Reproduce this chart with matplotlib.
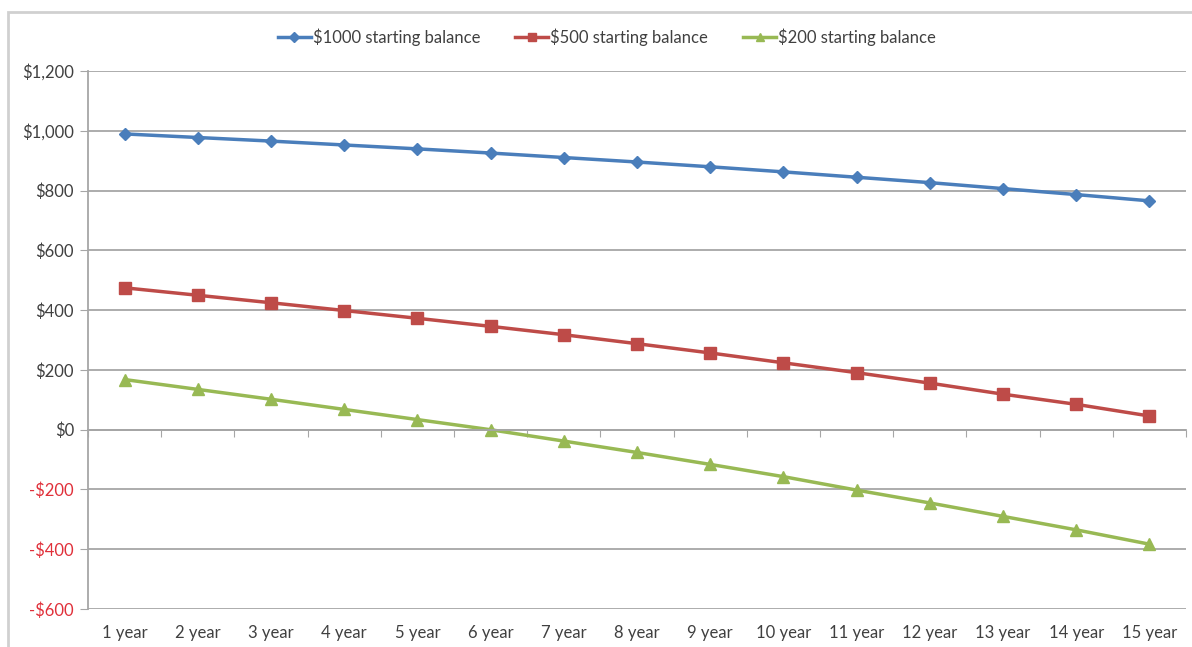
import numpy as np
import matplotlib.pyplot as plt
from matplotlib.patches import Rectangle
import matplotlib.transforms as mtransforms

plt.rcParams['font.family'] = ['Lato', 'DejaVu Sans']

years = [f"{i} year" for i in range(1, 16)]
bal_1000 = [990, 978, 966, 953, 940, 926, 911, 896, 880, 863, 845, 827, 807, 787, 766]
bal_500 = [475, 450, 425, 399, 373, 346, 318, 288, 257, 224, 191, 156, 119, 85, 46]
bal_200 = [168, 135, 102, 68, 34, 0, -38, -76, -116, -157, -202, -245, -290, -335, -383]
yticks = [1200, 1000, 800, 600, 400, 200, 0, -200, -400, -600]

blue = "#4A7EBB"
red = "#BE4B48"
green = "#98B954"

fig = plt.figure(figsize=(11.92, 6.47), dpi=100)
ax = fig.add_axes([0.0738, 0.0587, 0.9212, 0.8313])

x = np.arange(1, len(years) + 1)
ax.plot(x, bal_1000, color=blue, lw=2.5, marker="D", ms=6, label="$1000 starting balance")
ax.plot(x, bal_500, color=red, lw=2.5, marker="s", ms=8, label="$500 starting balance")
ax.plot(x, bal_200, color=green, lw=2.5, marker="^", ms=8, label="$200 starting balance")

ax.set_xlim(0.5, len(years) + 0.5)
ax.set_ylim(-600, 1200)
ax.set_yticks(yticks)
labels = []
for v in yticks:
    labels.append(f"-${abs(v):,}" if v < 0 else f"${v:,}")
ax.set_yticklabels(labels, fontsize=12)
for t, v in zip(ax.get_yticklabels(), yticks):
    t.set_color("#E0303A" if v < 0 else "#404040")
ax.yaxis.grid(True, color="#a6a6a6", lw=1.3)
ax.set_axisbelow(True)
ax.tick_params(axis="y", length=6, color="#a6a6a6", pad=4)

# category axis crosses at zero
for s in ["top", "right"]:
    ax.spines[s].set_visible(False)
ax.spines["left"].set_color("#a6a6a6")
ax.spines["left"].set_linewidth(1.3)
ax.spines["bottom"].set_position(("data", 0))
ax.spines["bottom"].set_color("#a6a6a6")
ax.spines["bottom"].set_linewidth(1.3)
ax.set_xticks(np.arange(0.5, len(years) + 1, 1.0))
ax.set_xticklabels([])
ax.tick_params(axis="x", length=5, color="#a6a6a6")

trans = mtransforms.blended_transform_factory(ax.transData, ax.transAxes)
for xi, lab in zip(x, years):
    ax.text(xi, -0.045, lab, transform=trans, ha="center", va="center",
            fontsize=12, color="#404040")

fig.legend(loc="center", bbox_to_anchor=(0.509, 0.943), ncol=3, frameon=False,
           fontsize=12, handlelength=2.0, handletextpad=0.1, columnspacing=2.1,
           markerscale=0.8, labelcolor="#404040")

fig.patches.append(Rectangle((8 / 1192, -0.1), 1.2, 1 - 12 / 647 + 0.1,
                             transform=fig.transFigure, fill=False,
                             edgecolor="#d0d0d0", lw=2))

fig.savefig("out.png", dpi=100)
